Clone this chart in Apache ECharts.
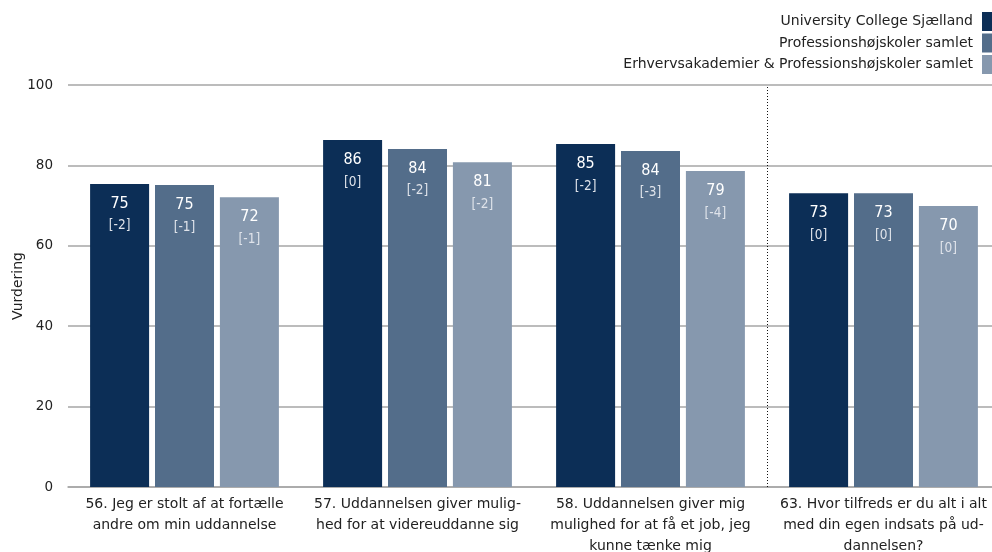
<!DOCTYPE html>
<html>
<head>
<meta charset="utf-8">
<script src="https://cdn.jsdelivr.net/npm/echarts@6/dist/echarts.min.js"></script>
<style>
  html, body { margin: 0; padding: 0; background: #fff; }
  #chart { width: 992px; height: 552px; }
</style>
</head>
<body>
<div id="chart"></div>
<script>
// Survey questions (x categories)
var categories = [
  '56. Jeg er stolt af at fortælle\nandre om min uddannelse',
  '57. Uddannelsen giver mulig-\nhed for at videreuddanne sig',
  '58. Uddannelsen giver mig\nmulighed for at få et job, jeg\nkunne tænke mig',
  '63. Hvor tilfreds er du alt i alt\nmed din egen indsats på ud-\ndannelsen?'
];

var seriesNames = [
  'University College Sjælland',
  'Professionshøjskoler samlet',
  'Erhvervsakademier & Professionshøjskoler samlet'
];

// Average ratings per question
var ucsValues  = [75.4, 86.3, 85.3, 73.1];
var phValues   = [75.1, 84.1, 83.6, 73.1];
var eaphValues = [72.1, 80.8, 78.6, 69.9];

// Change since previous survey, shown in brackets
var ucsChange  = [-2, 0, -2, 0];
var phChange   = [-1, -2, -3, 0];
var eaphChange = [-1, -2, -4, 0];

var yTicks = [0, 20, 40, 60, 80, 100];

// Separator between the first three questions and the last one
var separatorAt = 3;

var colors = ['#0c2e56', '#536d8a', '#8698ae'];
var FONT = 'DejaVu Sans';
var LABEL_FONT = 'DejaVu Sans Condensed';

function makeSeries(name, values, changes, color) {
  return {
    name: name,
    type: 'bar',
    barWidth: 59,
    barGap: '10%',
    itemStyle: { color: color },
    data: values,
    label: {
      show: true,
      position: 'insideTop',
      distance: 10,
      fontFamily: LABEL_FONT,
      formatter: function (p) {
        var c = changes[p.dataIndex];
        return '{v|' + Math.round(p.value) + '}\n{c|[' + c + ']}';
      },
      rich: {
        v: { color: '#ffffff', fontSize: 16, fontFamily: LABEL_FONT, lineHeight: 20 },
        c: { color: '#dfe3ea', fontSize: 13.5, fontFamily: LABEL_FONT, lineHeight: 24 }
      }
    }
  };
}

var chart = echarts.init(document.getElementById('chart'), null, { renderer: 'canvas' });

chart.setOption({
  animation: false,
  textStyle: { fontFamily: FONT },
  grid: { left: 68, right: -8, top: 85, bottom: 65, containLabel: false, outerBoundsMode: 'none' },
  legend: {
    orient: 'vertical',
    right: -10,
    top: 12,
    padding: 0,
    align: 'right',
    itemWidth: 20,
    itemHeight: 19,
    itemGap: 2.5,
    icon: 'rect',
    textStyle: { fontFamily: FONT, fontSize: 14, color: '#222', padding: [4, 4, 0, 0] },
    data: seriesNames
  },
  xAxis: [{
    type: 'category',
    data: categories,
    axisLine: { lineStyle: { color: '#a6a6a6', width: 1.5 } },
    axisTick: { show: false },
    axisLabel: {
      interval: 0,
      margin: 7,
      fontFamily: FONT,
      fontSize: 14,
      lineHeight: 21,
      color: '#222'
    },
    splitLine: { show: false }
  }, {
    // hidden linear axis spanning the categories, used to place the separator
    type: 'value',
    min: 0,
    max: categories.length,
    show: false
  }],
  yAxis: {
    type: 'value',
    min: yTicks[0],
    max: yTicks[yTicks.length - 1],
    interval: 20,
    name: 'Vurdering',
    nameLocation: 'middle',
    nameGap: 43,
    nameMoveOverlap: false,
    nameTextStyle: { fontFamily: FONT, fontSize: 14, color: '#222' },
    axisLine: { show: false },
    axisTick: { show: false },
    axisLabel: { margin: 15, fontFamily: FONT, fontSize: 13.5, color: '#222' },
    splitLine: { lineStyle: { color: '#a6a6a6', width: 1.5 } }
  },
  series: [
    makeSeries(seriesNames[0], ucsValues, ucsChange, colors[0]),
    makeSeries(seriesNames[1], phValues, phChange, colors[1]),
    makeSeries(seriesNames[2], eaphValues, eaphChange, colors[2]),
    {
      name: 'separator',
      type: 'line',
      xAxisIndex: 1,
      data: [],
      silent: true,
      markLine: {
        symbol: 'none',
        silent: true,
        label: { show: false },
        lineStyle: { color: '#111', type: [1, 2], width: 1 },
        data: [{ xAxis: separatorAt }]
      }
    }
  ]
});
</script>
</body>
</html>
